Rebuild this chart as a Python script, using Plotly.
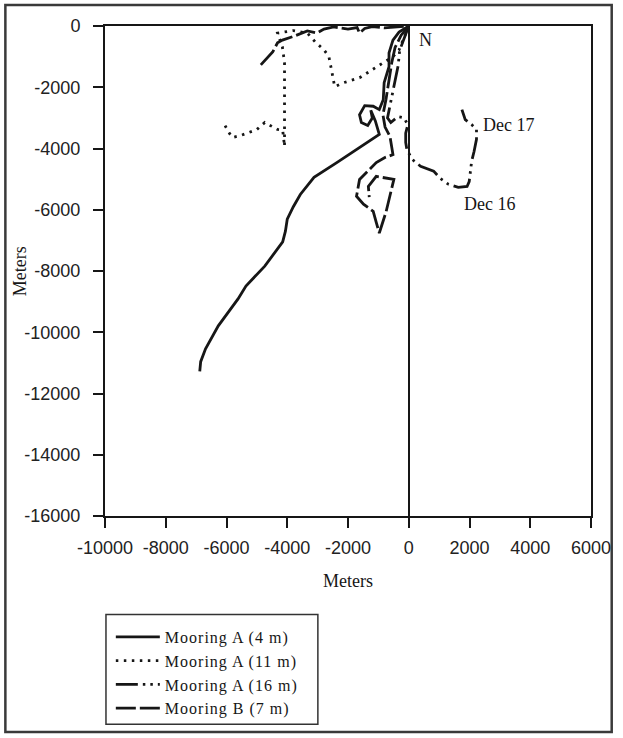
import plotly.graph_objects as go

# ---------------- data (meters) ----------------
a4_x = [0, -320, -520, -650, -650, -810, -840, -970, -1170, -1450, -1620, -1560, -1350, -1200, -1250,
        -1100, -970, -1950, -2370, -3120, -3570, -3800, -4000, -4060, -4150, -4740, -5360, -5620,
        -6270, -6690, -6850, -6880]
a4_y = [0, -200, -460, -880, -1330, -1850, -2410, -2730, -2620, -2600, -2900, -3150, -3250, -3000, -2750,
        -3100, -3540, -4200, -4460, -4940, -5500, -5900, -6310, -6700, -7050, -7840, -8490, -8910,
        -9790, -10540, -10960, -11280]

a11_x = [0, -320, -520, -840, -1300, -1620, -2140, -2440, -2530, -2630, -2790, -3080, -3340, -3800,
         -4320, -4160, -4090, -4090, -4090, -4090, -4090, -4150, -4320, -4740, -5000, -5550, -5810,
         -5940, -6100]
a11_y = [0, -780, -1000, -1200, -1500, -1690, -1850, -1980, -1500, -1000, -780, -520, -230, -150,
         -230, -680, -1200, -1760, -2500, -3380, -3930, -3400, -3380, -3150, -3380, -3580, -3640,
         -3450, -3150]

a16_x = [0, -150, -300, -350, -450, -550, -650, -700, -590, -360, -160, -30, -100, -100, -60, 120,
         390, 610, 820, 1040, 1310, 1630, 1920, 1990, 2020, 2070, 2150, 2230, 2230, 2070, 1860, 1750]
a16_y = [0, -400, -800, -1300, -1800, -2300, -2700, -3000, -3150, -2960, -3000, -3220, -3500, -3800,
         -4050, -4360, -4580, -4650, -4740, -4980, -5170, -5270, -5240, -5080, -4750, -4420, -4100,
         -3700, -3380, -3220, -3060, -2730]

b7_x = [-4870, -4640, -4480, -4320, -4160, -3770, -3340, -3020, -2790, -2470, -2000, -1700, -1620,
        -1450, -1200, -800, -400, 0, -250, -450, -560, -650, -750, -850, -780, -620, -520, -800,
        -1070, -1620, -1720, -1490, -1170, -1070, -970, -750, -580, -490, -1070, -1330, -1300]
b7_y = [-1270, -1040, -850, -550, -460, -330, -160, -230, -100, -30, -100, -50, -230, -80, -20,
        -60, -20, 0, -300, -700, -1200, -1800, -2400, -2900, -3300, -3600, -4200, -4300, -4460,
        -5010, -5560, -5820, -6050, -6410, -6760, -6080, -5330, -5010, -4910, -5240, -5590]

series_names = ["Mooring A (4 m)", "Mooring A (11 m)", "Mooring A (16 m)", "Mooring B (7 m)"]

x_tickvals = [-10000, -8000, -6000, -4000, -2000, 0, 2000, 4000, 6000]
x_ticktext = ["-10000", "-8000", "-6000", "-4000", "-2000", "0", "2000", "4000", "6000"]
y_tickvals = [0, -2000, -4000, -6000, -8000, -10000, -12000, -14000, -16000]
y_ticktext = ["0", "-2000", "-4000", "-6000", "-8000", "-10000", "-12000", "-14000", "-16000"]

label_text = ["N", "Dec 17", "Dec 16"]
label_x = [552, 3296, 2663]
label_y = [-455, -3220, -5821]

axis_title = "Meters"

# ---------------- figure ----------------
INK = "#161616"
SERIF = "Liberation Serif"
SANS = "Liberation Sans"

fig = go.Figure()
styles = [
    dict(dash="solid", width=2.8),
    dict(dash="2.5px,5.5px", width=2.8),
    dict(dash="22px,5px,2.5px,5px,2.5px,5px", width=2.8),
    dict(dash="20px,4px", width=2.8),
]
data = [(a4_x, a4_y), (a11_x, a11_y), (a16_x, a16_y), (b7_x, b7_y)]
for i, ((xs, ys), st) in enumerate(zip(data, styles)):
    fig.add_trace(go.Scatter(
        x=xs, y=ys, mode="lines", name=series_names[i],
        line=dict(color=INK, width=st["width"], dash=st["dash"]),
        hoverinfo="skip",
    ))

for t, x, y in zip(label_text, label_x, label_y):
    fig.add_annotation(x=x, y=y, text=t, showarrow=False,
                       font=dict(family=SERIF, size=18, color=INK))

# y-axis title (rotated)
fig.add_annotation(xref="paper", yref="paper", x=-0.1744, y=0.5, text=axis_title,
                   textangle=-90, showarrow=False, xanchor="center", yanchor="middle",
                   font=dict(family=SERIF, size=18, color=INK))

axis_common = dict(
    showline=True, linewidth=2, linecolor=INK, mirror=True,
    ticks="outside", ticklen=10, tickwidth=2, tickcolor=INK,
    showgrid=False, zeroline=True, zerolinecolor=INK, zerolinewidth=2,
    tickfont=dict(family=SANS, size=18, color="#222"),
    tickmode="array",
)

fig.update_layout(
    width=623, height=738,
    margin=dict(l=105, r=25, t=26, b=220),
    paper_bgcolor="white", plot_bgcolor="white",
    xaxis=dict(range=[-10000, 6000], tickvals=x_tickvals, ticktext=x_ticktext,
               ticklabelstandoff=4,
               title=dict(text=axis_title, font=dict(family=SERIF, size=18, color=INK), standoff=18),
               **axis_common),
    yaxis=dict(range=[-16000, 0], tickvals=y_tickvals, ticktext=y_ticktext,
               ticklabelstandoff=9, **axis_common),
    showlegend=True,
    legend=dict(x=0.012, y=-0.212, xanchor="left", yanchor="top",
                bgcolor="rgba(0,0,0,0)", borderwidth=0,
                font=dict(family=SERIF, size=16, color=INK),
                itemwidth=44, traceorder="normal"),
    shapes=[
        # legend frame
        dict(type="rect", xref="paper", yref="paper",
             x0=0.002, x1=0.438, y0=-0.425, y1=-0.201,
             line=dict(color="#333", width=1.5), fillcolor="rgba(0,0,0,0)", layer="below"),
        # outer chart frame
        dict(type="rect", xref="paper", yref="paper",
             x0=-0.205, x1=1.0426, y0=-0.441, y1=1.0427,
             line=dict(color="#3a3a3a", width=2.5), fillcolor="rgba(0,0,0,0)", layer="below"),
    ],
)

fig.write_html(
    "out.html", config={"displayModeBar": False},
    post_script=(
        "document.body.style.margin='0';"
        "document.querySelectorAll('.legend [clip-path]').forEach(function(e){e.removeAttribute('clip-path');});"
        "document.querySelectorAll('.legendtext').forEach(function(e){e.style.letterSpacing='1px';});"
    ),
)
